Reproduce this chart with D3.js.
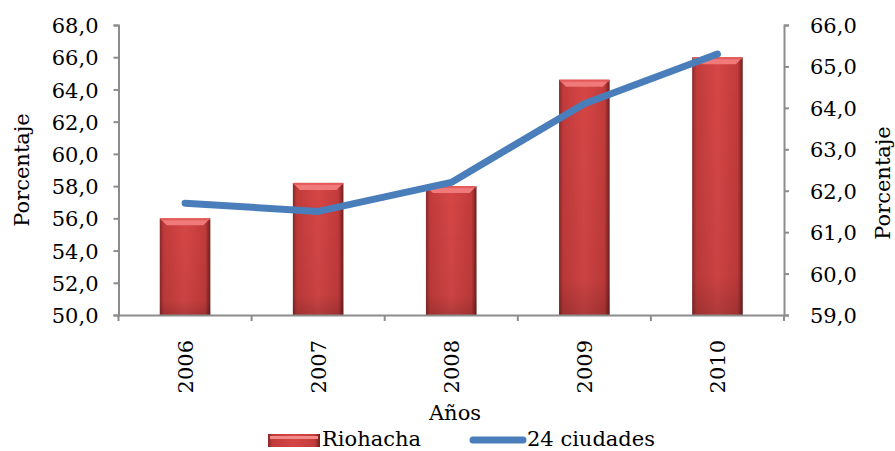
<!DOCTYPE html>
<html>
<head>
<meta charset="utf-8">
<script src="https://cdn.jsdelivr.net/npm/d3@7"></script>
<style>
  body { margin: 0; background: #fff; }
  text { font-family: "DejaVu Serif", serif; fill: #000; }
</style>
</head>
<body>
<script>
var years = ["2006", "2007", "2008", "2009", "2010"];
var riohacha = [56.0, 58.2, 58.0, 64.6, 66.0];
var ciudades = [61.7, 61.5, 62.2, 64.1, 65.3];
var leftTicks = [50, 52, 54, 56, 58, 60, 62, 64, 66, 68];
var rightTicks = [59, 60, 61, 62, 63, 64, 65, 66];

var width = 895, height = 451;
var plot = {left: 118.5, right: 784, top: 25, bottom: 315};
var fs = 21;
var fmt = function(d) { return d3.format(".1f")(d).replace(".", ","); };

var svg = d3.select("body").append("svg")
    .attr("width", width)
    .attr("height", height);

// bar shading, roughly like the office bevel look
var defs = svg.append("defs");
var grad = defs.append("linearGradient").attr("id", "barGrad")
    .attr("x1", "0%").attr("x2", "100%").attr("y1", "0%").attr("y2", "0%");
[["0%", "#8a2828"], ["8%", "#c13b3b"], ["50%", "#d64646"], ["90%", "#c23b3b"], ["100%", "#6e1f1f"]]
  .forEach(function(s) { grad.append("stop").attr("offset", s[0]).attr("stop-color", s[1]); });
var vgrad = defs.append("linearGradient").attr("id", "barShade")
    .attr("x1", "0%").attr("x2", "0%").attr("y1", "0%").attr("y2", "100%");
[["0%", "#000", 0], ["85%", "#000", 0.05], ["100%", "#000", 0.18]]
  .forEach(function(s) { vgrad.append("stop").attr("offset", s[0]).attr("stop-color", s[1]).attr("stop-opacity", s[2]); });

var x = d3.scaleBand()
    .domain(years)
    .range([plot.left, plot.right])
    .paddingInner(0.62)
    .paddingOuter(0.31);

var xOuter = d3.scaleBand().domain(years).range([plot.left, plot.right]);

var y = d3.scaleLinear().domain([50, 68]).range([plot.bottom, plot.top]);
var y2 = d3.scaleLinear().domain([59, 66]).range([plot.bottom, plot.top]);

// bars
var bar = svg.append("g").selectAll(".bar")
    .data(years)
    .enter().append("g")
      .attr("class", "bar");

bar.append("rect")
    .attr("x", function(d) { return x(d); })
    .attr("y", function(d, i) { return y(riohacha[i]); })
    .attr("width", x.bandwidth())
    .attr("height", function(d, i) { return plot.bottom - y(riohacha[i]); })
    .attr("fill", "url(#barGrad)");

bar.append("rect")
    .attr("x", function(d) { return x(d); })
    .attr("y", function(d, i) { return y(riohacha[i]); })
    .attr("width", x.bandwidth())
    .attr("height", function(d, i) { return plot.bottom - y(riohacha[i]); })
    .attr("fill", "url(#barShade)");

bar.append("path")
    .attr("d", function(d, i) {
      var x0 = x(d), x1 = x(d) + x.bandwidth(), yt = y(riohacha[i]);
      return "M" + x0 + "," + yt + "L" + x1 + "," + yt + "L" + (x1 - 7) + "," + (yt + 7) + "L" + (x0 + 7) + "," + (yt + 7) + "Z";
    })
    .attr("fill", "#f07a7a");

bar.append("rect")
    .attr("x", function(d) { return x(d) + 1; })
    .attr("y", function(d, i) { return y(riohacha[i]); })
    .attr("width", x.bandwidth() - 2)
    .attr("height", 2)
    .attr("fill", "#e45a5a");

// axes
var axisColor = "#8c8c8c";

var gLeft = svg.append("g")
    .attr("transform", "translate(" + plot.left + ",0)")
    .call(d3.axisLeft(y).tickValues(leftTicks).tickFormat(fmt).tickSize(5).tickPadding(15));

var gRight = svg.append("g")
    .attr("transform", "translate(" + plot.right + ",0)")
    .call(d3.axisRight(y2).tickValues(rightTicks).tickFormat(fmt).tickSize(5).tickPadding(21));

var gBottom = svg.append("g")
    .attr("transform", "translate(0," + plot.bottom + ")")
    .call(d3.axisBottom(xOuter).tickSize(0).tickFormat(""));

[gLeft, gRight, gBottom].forEach(function(g) {
  g.select(".domain").attr("stroke", axisColor).attr("stroke-width", 2);
  g.selectAll(".tick line").attr("stroke", axisColor).attr("stroke-width", 2);
  g.selectAll(".tick text").attr("font-family", "DejaVu Serif").attr("font-size", fs).attr("fill", "#000");
});
gLeft.selectAll(".tick text").attr("dy", "0.36em");
gRight.selectAll(".tick text").attr("dy", "0.36em");

// category boundary ticks
svg.append("g").selectAll("line")
    .data(years.concat(["end"]))
    .enter().append("line")
      .attr("x1", function(d, i) { return i < years.length ? xOuter(d) : plot.right; })
      .attr("x2", function(d, i) { return i < years.length ? xOuter(d) : plot.right; })
      .attr("y1", plot.bottom)
      .attr("y2", plot.bottom + 6)
      .attr("stroke", axisColor)
      .attr("stroke-width", 2);

// year labels, rotated
svg.append("g").selectAll("text")
    .data(years)
    .enter().append("text")
      .attr("transform", function(d) {
        return "translate(" + (xOuter(d) + xOuter.bandwidth() / 2 + 8) + "," + 340 + ") rotate(-90)";
      })
      .attr("text-anchor", "end")
      .attr("font-size", fs)
      .text(function(d) { return d; });

// line series
var line = d3.line()
    .x(function(d, i) { return xOuter(years[i]) + xOuter.bandwidth() / 2; })
    .y(function(d) { return y2(d); });

svg.append("path")
    .datum(ciudades)
    .attr("d", line)
    .attr("fill", "none")
    .attr("stroke", "#4a7ebb")
    .attr("stroke-width", 7)
    .attr("stroke-linecap", "round")
    .attr("stroke-linejoin", "round");

// axis titles
svg.append("text")
    .attr("transform", "translate(29,170) rotate(-90)")
    .attr("text-anchor", "middle")
    .attr("font-size", fs)
    .text("Porcentaje");

svg.append("text")
    .attr("transform", "translate(890,183) rotate(-90)")
    .attr("text-anchor", "middle")
    .attr("font-size", fs)
    .text("Porcentaje");

svg.append("text")
    .attr("x", 455)
    .attr("y", 420)
    .attr("text-anchor", "middle")
    .attr("font-size", fs)
    .text("Años");

// legend
var lg = svg.append("g");
lg.append("rect").attr("x", 268).attr("y", 434).attr("width", 52).attr("height", 13).attr("fill", "url(#barGrad)");
lg.append("rect").attr("x", 270).attr("y", 436).attr("width", 48).attr("height", 3).attr("fill", "#f28a8a");
lg.append("text").attr("x", 322).attr("y", 446).attr("font-size", fs).text("Riohacha");
lg.append("line").attr("x1", 473).attr("x2", 523).attr("y1", 440).attr("y2", 440)
    .attr("stroke", "#4a7ebb").attr("stroke-width", 7).attr("stroke-linecap", "round");
lg.append("text").attr("x", 527).attr("y", 446).attr("font-size", fs).text("24 ciudades");
</script>
</body>
</html>
